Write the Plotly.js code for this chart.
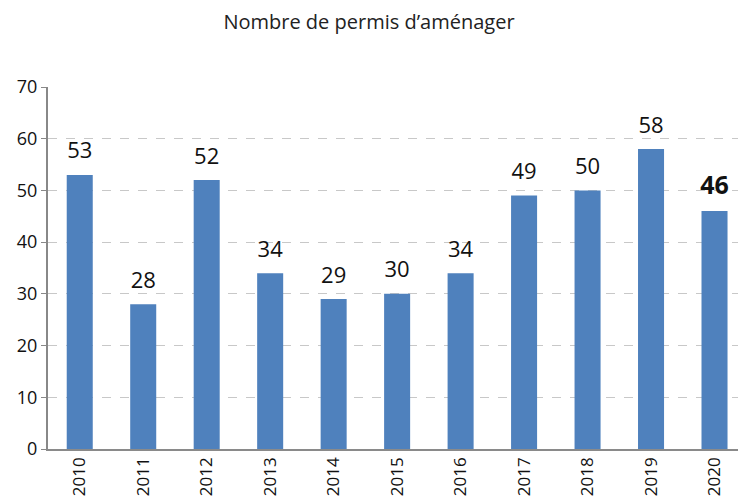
<!DOCTYPE html>
<html><head><meta charset="utf-8">
<script src="https://cdn.plot.ly/plotly-3.0.1.min.js"></script>
<style>html,body{margin:0;padding:0;background:#fff}#chart{width:738px;height:498px}</style>
</head><body><div id="chart"></div>
<script>
const years = ["2010","2011","2012","2013","2014","2015","2016","2017","2018","2019","2020"];
const permits = [53,28,52,34,29,30,34,49,50,58,46];
const yTicks = [0,10,20,30,40,50,60,70];

const labelText = permits.map((v,i)=> i===permits.length-1 ? '<b>'+v+'</b>' : String(v));
const labelSize = permits.map((v,i)=> i===permits.length-1 ? 25 : 22);

Plotly.newPlot('chart',[{
  type:'bar', x: years, y: permits,
  marker:{color:'#4f81bd'}, width:0.41, hoverinfo:'none'
},{
  type:'scatter', mode:'markers+text', x: years, y: permits,
  marker:{size:16, opacity:0},
  text: labelText, textposition:'top center',
  textfont:{family:'Open Sans, sans-serif', size:labelSize, color:'#111'},
  hoverinfo:'none', cliponaxis:false
}],{
  width:738, height:498,
  margin:{l:48, r:0, t:87, b:49},
  paper_bgcolor:'#fff', plot_bgcolor:'#fff',
  title:{text:"Nombre de permis d’aménager", x:0.5, xanchor:'center', y:0.955, yanchor:'middle',
    font:{family:'Open Sans, sans-serif', size:20, color:'#222'}},
  showlegend:false,
  xaxis:{type:'category', range:[-0.5,10.37], tickangle:-90, showgrid:false,
    showline:true, linecolor:'#8a8a8a', linewidth:1.5, ticks:'',
    tickfont:{family:'Open Sans, sans-serif', size:17, color:'#111'}, automargin:false},
  yaxis:{range:[0,70], tickvals:yTicks, showgrid:true, gridcolor:'#c8c8c8', griddash:'dash',
    gridwidth:1, showline:true, linecolor:'#888', linewidth:2, ticks:'outside', ticklen:5,
    tickcolor:'#888', zeroline:false,
    tickfont:{family:'Open Sans, sans-serif', size:18, color:'#111'}, automargin:false}
},{displayModeBar:false, staticPlot:true});
</script></body></html>
